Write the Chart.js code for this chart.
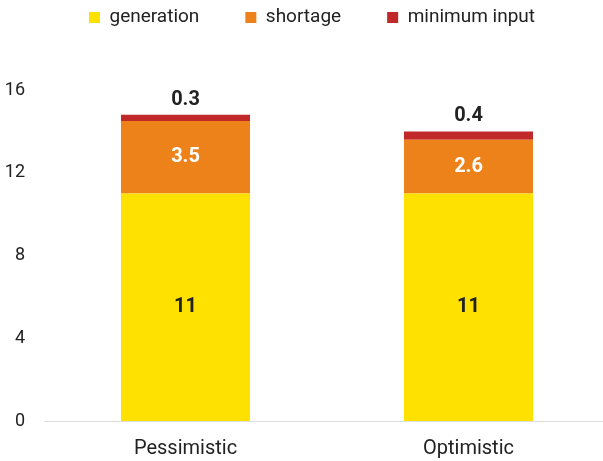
<!DOCTYPE html>
<html>
<head>
<meta charset="utf-8">
<script src="https://cdn.jsdelivr.net/npm/chart.js@4/dist/chart.umd.min.js"></script>
<style>
  html, body { margin: 0; padding: 0; background: #fff; overflow: hidden; }
  #wrap { width: 624px; height: 461px; }
</style>
</head>
<body>
<div id="wrap"><canvas id="c"></canvas></div>
<script>
// Scenario categories and the three stacked components
const scenarios = ['Pessimistic', 'Optimistic'];
const generation = [11, 11];
const shortage = [3.5, 2.6];
const minimumInput = [0.3, 0.4];
const yTicks = [0, 4, 8, 12, 16];

const FONT = 'Roboto, "DejaVu Sans", sans-serif';
const TEXT = '#222';
const LEGEND_GAP = 46;   // horizontal space between legend entries
const LEGEND_TOP = 8;    // distance of the legend row from the top edge

// Label colour per stacked series (dark on yellow, white on orange, dark above the bar)
const labelColors = [TEXT, '#fff', TEXT];

// Value labels: centred in the lower segments, above the bar for the top one
const valueLabels = {
  id: 'valueLabels',
  afterDatasetsDraw(chart) {
    const ctx = chart.ctx;
    ctx.save();
    ctx.textAlign = 'center';
    ctx.textBaseline = 'middle';
    ctx.font = 'bold 20px ' + FONT;
    chart.data.datasets.forEach((ds, di) => {
      const meta = chart.getDatasetMeta(di);
      const last = di === chart.data.datasets.length - 1;
      ctx.fillStyle = labelColors[di];
      meta.data.forEach((el, i) => {
        const txt = String(ds.data[i]);
        const y = last ? el.y - 15 : (el.y + el.base) / 2;
        ctx.fillText(txt, el.x, y);
      });
    });
    ctx.restore();
  }
};

// Fixed-height legend band; the row sits near the top regardless of item gap
const legendBand = {
  id: 'legendBand',
  beforeLayout(chart) {
    const lg = chart.legend;
    if (lg && !lg._bandWrapped) {
      const fit = lg.fit;
      lg.fit = function () { fit.call(this); this.height = 90; };
      const draw = lg.draw;
      lg.draw = function () {
        const t = this.top;
        this.top = t - (LEGEND_GAP - LEGEND_TOP);
        draw.call(this);
        this.top = t;
      };
      lg._bandWrapped = true;
    }
  }
};

new Chart(document.getElementById('c'), {
  type: 'bar',
  data: {
    labels: scenarios,
    datasets: [
      { label: 'generation', data: generation, backgroundColor: '#FFE100' },
      { label: 'shortage', data: shortage, backgroundColor: '#EE821A' },
      { label: 'minimum input', data: minimumInput, backgroundColor: '#C0282A' }
    ]
  },
  options: {
    responsive: true,
    maintainAspectRatio: false,
    animation: false,
    layout: { padding: { left: 14, right: 14, top: 0, bottom: 0 } },
    datasets: { bar: { categoryPercentage: 1, barPercentage: 0.456 } },
    plugins: {
      tooltip: { enabled: false },
      legend: {
        position: 'top',
        labels: {
          boxWidth: 11,
          boxHeight: 11,
          padding: LEGEND_GAP,
          color: TEXT,
          font: { family: FONT, size: 19 }
        }
      }
    },
    scales: {
      x: {
        stacked: true,
        grid: { display: false, drawTicks: false },
        border: { display: true, color: '#dddddd', width: 1 },
        ticks: { color: TEXT, font: { family: FONT, size: 20 }, padding: 16 },
        afterFit(scale) { scale.height = 40; }
      },
      y: {
        stacked: true,
        min: 0,
        max: 16,
        grid: { display: false, drawTicks: false },
        border: { display: false },
        afterBuildTicks(scale) { scale.ticks = yTicks.map(v => ({ value: v })); },
        ticks: { color: TEXT, font: { family: FONT, size: 18 }, padding: 19 },
        afterFit(scale) {
          scale.width = 30;
          scale._computeLabelArea = () => undefined;  // let tick labels extend past the narrow axis box
        }
      }
    }
  },
  plugins: [valueLabels, legendBand]
});
</script>
</body>
</html>
